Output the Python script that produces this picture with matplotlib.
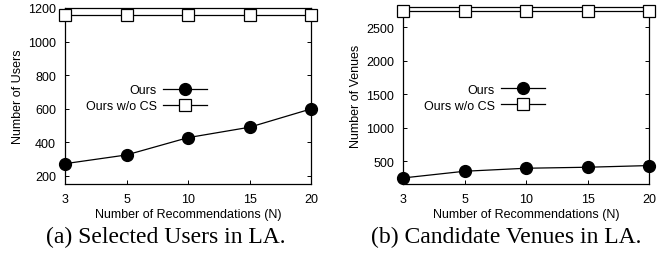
import matplotlib
matplotlib.use('Agg')
import matplotlib.pyplot as plt
import numpy as np

plt.rcParams['font.family'] = 'sans-serif'
plt.rcParams['font.sans-serif'] = ['Liberation Sans', 'DejaVu Sans']

n_labels = ['3', '5', '10', '15', '20']

# (a) selected users
users_ours = [273, 325, 428, 490, 599]
users_wo_cs = [1160, 1160, 1160, 1160, 1160]

# (b) candidate venues
venues_ours = [250, 350, 395, 410, 435]
venues_wo_cs = [2740, 2740, 2740, 2740, 2740]

W, H = 668, 255
fig = plt.figure(figsize=(W / 100, H / 100), dpi=100)

def make_panel(rect, ours, wo, ylabel, ylim, yticks, caption, cap_x):
    ax = fig.add_axes(rect)
    x = np.arange(len(n_labels))
    ax.plot(x, ours, '-', color='black', lw=0.9, marker='o', ms=8.5,
            mfc='black', mec='black', label='Ours', clip_on=False, zorder=3)
    ax.plot(x, wo, '-', color='black', lw=0.9, marker='s', ms=8,
            mfc='white', mec='black', mew=0.9, label='Ours w/o CS', clip_on=False, zorder=3)
    ax.set_xlim(0, len(n_labels) - 1)
    ax.set_ylim(*ylim)
    ax.set_xticks(x)
    ax.set_xticklabels(n_labels)
    ax.set_yticks(yticks)
    ax.tick_params(direction='in', top=True, right=True, labelsize=9,
                   length=3, width=0.7, pad=6.5)
    for s in ax.spines.values():
        s.set_linewidth(0.9)
    ax.set_xlabel('Number of Recommendations (N)', fontsize=9, labelpad=2.5)
    ax.set_ylabel(ylabel, fontsize=9, labelpad=3)
    ax.legend(loc='upper right', bbox_to_anchor=(0.577, 0.566), frameon=False,
              markerfirst=False, fontsize=9, handlelength=3.5,
              handletextpad=0.5, labelspacing=0.3, borderpad=0, borderaxespad=0)
    fig.text(cap_x, 18 / H, caption, ha='center', va='center',
             fontsize=17, family=['Liberation Serif', 'DejaVu Serif'])
    return ax

make_panel([65 / W, 70 / H, 246 / W, 176 / H], users_ours, users_wo_cs,
           'Number of Users', (152, 1200), [200, 400, 600, 800, 1000, 1200],
           '(a) Selected Users in LA.', 166 / W)
make_panel([403 / W, 70 / H, 246 / W, 177 / H], venues_ours, venues_wo_cs,
           'Number of Venues', (160, 2800), [500, 1000, 1500, 2000, 2500],
           '(b) Candidate Venues in LA.', 506 / W)

fig.savefig('out.png', dpi=100)
